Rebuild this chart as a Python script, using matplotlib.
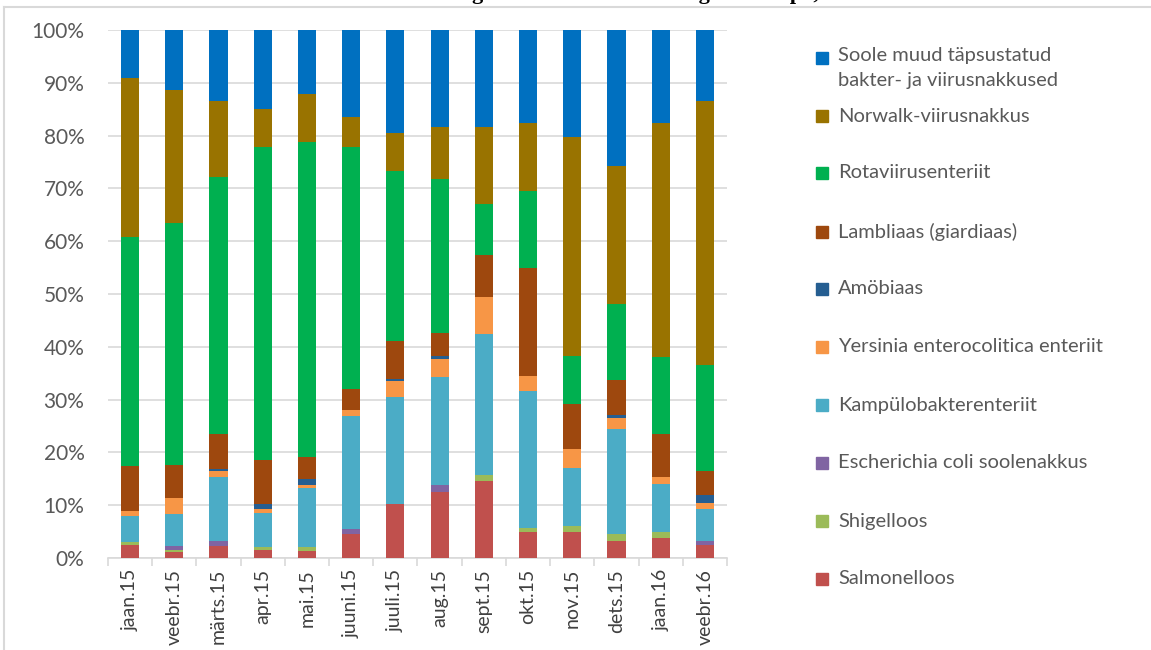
import matplotlib.pyplot as plt
from matplotlib.patches import Rectangle
from matplotlib.lines import Line2D
import numpy as np

months = ["jaan.15", "veebr.15", "märts.15", "apr.15", "mai.15", "juuni.15", "juuli.15",
          "aug.15", "sept.15", "okt.15", "nov.15", "dets.15", "jaan.16", "veebr.16"]

# shares in %, bottom to top of the stack
salmonelloos = [2.4, 1.2, 2.2, 1.6, 1.4, 4.5, 10.2, 12.5, 14.5, 5.0, 5.0, 3.3, 3.7, 2.4]
shigelloos = [0.7, 0.4, 0.0, 0.4, 0.6, 0.0, 0.0, 0.0, 1.3, 0.6, 1.0, 1.3, 1.3, 0.0]
e_coli = [0.0, 0.6, 1.1, 0.0, 0.0, 0.9, 0.0, 1.4, 0.0, 0.0, 0.0, 0.0, 0.0, 0.9]
kampylo = [4.8, 6.2, 12.0, 6.6, 11.2, 21.5, 20.3, 20.4, 26.7, 26.0, 11.0, 19.8, 9.1, 5.9]
yersinia = [1.0, 2.9, 1.1, 0.6, 0.7, 1.1, 3.0, 3.4, 6.9, 2.8, 3.6, 2.1, 1.2, 1.3]
amobiaas = [0.0, 0.0, 0.4, 1.0, 1.0, 0.0, 0.4, 0.6, 0.0, 0.0, 0.0, 0.5, 0.0, 1.4]
lambliaas = [8.5, 6.3, 6.7, 8.3, 4.2, 4.0, 7.2, 4.3, 8.0, 20.6, 8.6, 6.7, 8.2, 4.5]
rota = [43.4, 45.9, 48.6, 59.3, 59.6, 45.9, 32.2, 29.2, 9.7, 14.5, 9.1, 14.5, 14.5, 20.1]
norwalk = [30.2, 25.1, 14.4, 7.3, 9.1, 5.6, 7.1, 9.9, 14.5, 12.8, 41.4, 26.0, 44.4, 50.1]
soole_muud = [9.0, 11.4, 13.5, 14.9, 12.2, 16.5, 19.6, 18.3, 18.4, 17.7, 20.3, 25.8, 17.6, 13.4]

series = [
    ("Salmonelloos", salmonelloos, "#C0504D"),
    ("Shigelloos", shigelloos, "#9BBB59"),
    ("Escherichia coli soolenakkus", e_coli, "#8064A2"),
    ("Kampülobakterenteriit", kampylo, "#4BACC6"),
    ("Yersinia enterocolitica enteriit", yersinia, "#F79646"),
    ("Amöbiaas", amobiaas, "#255E91"),
    ("Lambliaas (giardiaas)", lambliaas, "#9E480E"),
    ("Rotaviirusenteriit", rota, "#00B050"),
    ("Norwalk-viirusnakkus", norwalk, "#997300"),
    ("Soole muud täpsustatud\nbakter- ja viirusnakkused", soole_muud, "#0070C0"),
]

plt.rcParams['font.family'] = ['Lato', 'DejaVu Sans']

fig = plt.figure(figsize=(11.51, 6.5), dpi=100)
ax = fig.add_axes([108 / 1151, 1 - 558 / 650, 619 / 1151, 528 / 650])

x = np.arange(len(months))
vals = np.array([s[1] for s in series], dtype=float)
vals = vals / vals.sum(axis=0) * 100
bottom = np.zeros(len(months))
for (name, _, color), v in zip(series, vals):
    ax.bar(x, v, width=0.41, bottom=bottom, color=color, zorder=3)
    bottom += v

ax.set_xlim(-0.5, len(months) - 0.5)
ax.set_ylim(0, 100)
ax.set_yticks(np.arange(0, 101, 10))
ax.set_yticklabels([f"{t}%" for t in range(0, 101, 10)], fontsize=15, color="#595959")
ax.yaxis.grid(True, color="#D9D9D9", lw=1.2, zorder=0)
ax.tick_params(axis="y", length=0, pad=17)

ax.set_xticks(x)
ax.set_xticklabels(months, rotation=90, fontsize=14, color="#404040")
ax.set_xticks(np.arange(-0.5, len(months), 1), minor=True)
ax.tick_params(axis="x", which="major", length=0, pad=8)
ax.tick_params(axis="x", which="minor", length=6, color="#D9D9D9", width=1.2)

for side in ["top", "right", "left"]:
    ax.spines[side].set_visible(False)
ax.spines["bottom"].set_color("#D9D9D9")
ax.spines["bottom"].set_linewidth(1.2)

# legend on the right, top entry first
leg_y = [58, 116, 173, 232, 289, 347, 405, 463, 521, 579]
for (name, _, color), yy in zip(series[::-1], leg_y):
    fig.add_artist(Rectangle((816 / 1151, 1 - (yy + 6) / 650), 12 / 1151, 12 / 650,
                             color=color, transform=fig.transFigure))
    two_lines = "\n" in name
    fig.text(838 / 1151, 1 - (yy - 11) / 650 if two_lines else 1 - yy / 650, name,
             fontsize=14.5, color="#595959", va="top" if two_lines else "center",
             linespacing=1.55, transform=fig.transFigure)

# outer chart frame
fig.add_artist(Line2D([4 / 1151, 4 / 1151], [0, 1 - 7 / 650], color="#D9D9D9", lw=1.5))
fig.add_artist(Line2D([4 / 1151, 1], [1 - 7 / 650, 1 - 7 / 650], color="#D9D9D9", lw=1.5))

# title, mostly cut off at the top edge
fig.text(0.52, 1.0 + 1 / 650, "Soolenakkustesse haigestumise struktuur haiguste kaupa, 2015–2016",
         ha="center", va="baseline", fontsize=16, fontweight="bold",
         family="Liberation Serif", color="black")

fig.savefig("out.png", dpi=100)
